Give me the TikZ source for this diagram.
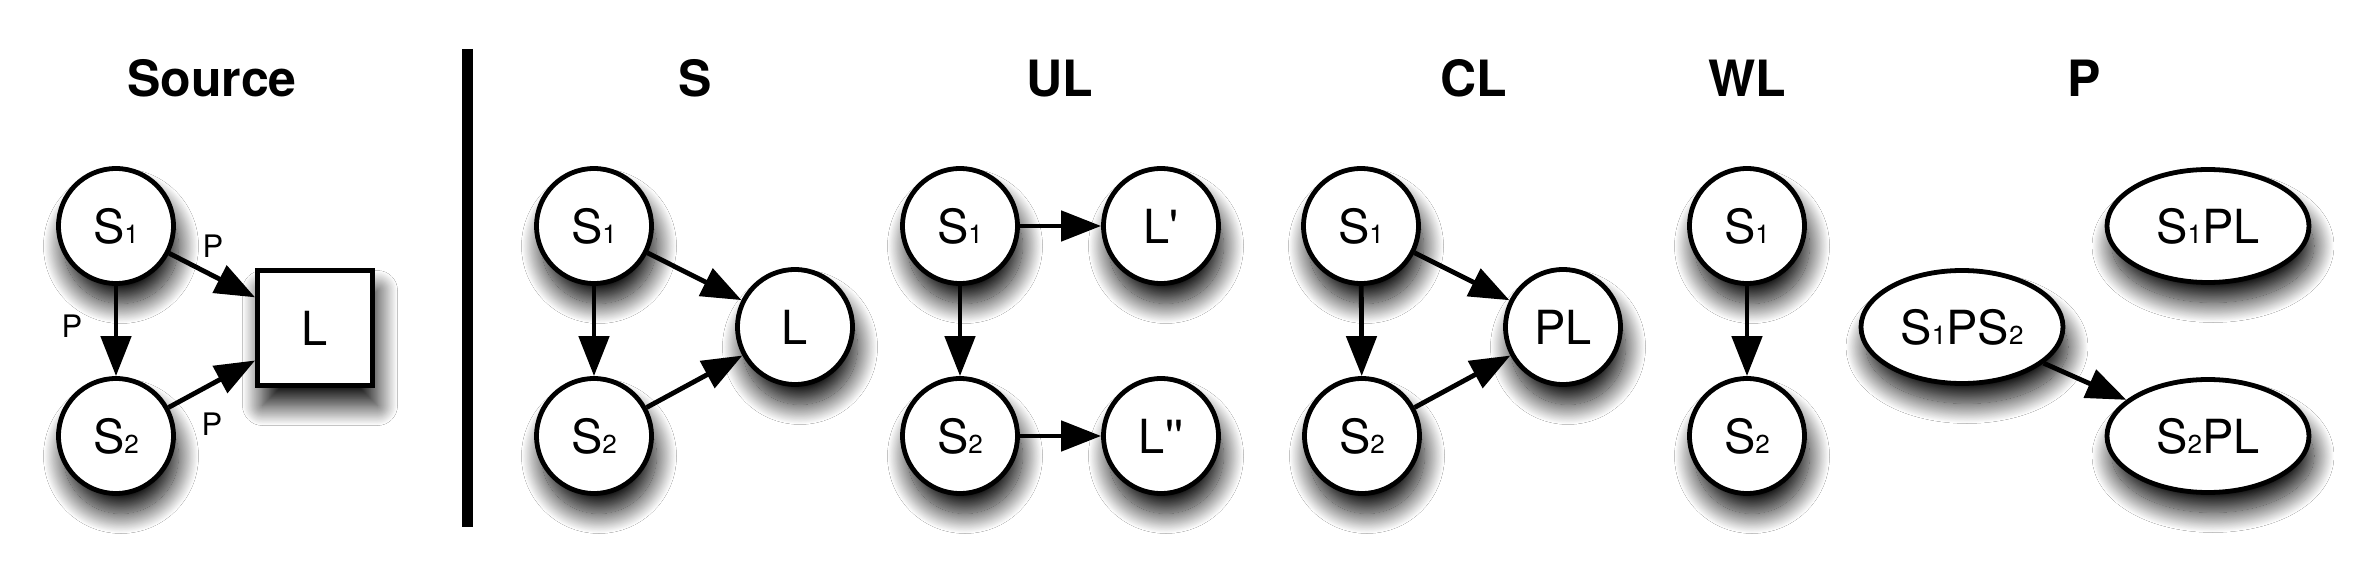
\documentclass[tikz,border=0pt]{standalone}
\usepackage{fontspec}
\newfontfamily\hv{TeX Gyre Heros}
\usetikzlibrary{arrows.meta,shapes.geometric,shadows.blur}
\newcommand{\dsub}[1]{{\fontsize{13pt}{13pt}\selectfont #1}}
\begin{document}
\begin{tikzpicture}[x=0.5pt,y=-0.5pt,
  every node/.style={inner sep=0pt, outer sep=1.2pt},
  nodefont/.style={font=\hv\fontsize{23.5pt}{23.5pt}\selectfont},
  sh/.style={blur shadow={shadow xshift=2.5pt, shadow yshift=-10pt, shadow blur radius=10pt, shadow blur steps=30, shadow opacity=95}},
  st/.style={circle, draw, line width=2.4pt, fill=white, minimum size=57.5pt, nodefont, sh},
  sq/.style={rectangle, draw, line width=2.4pt, fill=white, minimum size=57.5pt, nodefont, sh},
  el/.style={ellipse, draw, line width=2.4pt, fill=white, minimum width=101pt, minimum height=56.5pt, nodefont, sh},
  title/.style={font=\hv\bfseries\fontsize{25pt}{25pt}\selectfont, anchor=base},
  lab/.style={font=\hv\fontsize{15.5pt}{15.5pt}\selectfont},
  arr/.style={-{Triangle[length=20pt,width=15pt]}, line width=2.4pt},
]
\useasboundingbox[fill=white] (0,0) rectangle (2358,588);

% titles
\node[title] (tsrc) at (212,97) {Source};
\node[title] (ts) at (695,97) {S};
\node[title] (tul) at (1060,97) {UL};
\node[title] (tcl) at (1474,97) {CL};
\node[title] (twl) at (1747,97) {WL};
\node[title] (tp) at (2084,97) {P};

% separator bar
\draw[line width=5.5pt] (467,49) -- (467,527);

% Source
\node[st] (s1) at (116,226) {S\dsub{1}};
\node[st] (s2) at (116,436) {S\dsub{2}};
\node[sq] (sl) at (315,328) {L};
\draw[arr] (s1) -- (sl);
\draw[arr] (s1) -- (s2);
\draw[arr] (s2) -- (sl);
\node[lab] (p1) at (213,246) {P};
\node[lab] (p2) at (72,326) {P};
\node[lab] (p3) at (212,424) {P};

% S
\node[st] (a1) at (594,226) {S\dsub{1}};
\node[st] (a2) at (594,436) {S\dsub{2}};
\node[st] (al) at (795,327) {L};
\draw[arr] (a1) -- (al);
\draw[arr] (a1) -- (a2);
\draw[arr] (a2) -- (al);

% UL
\node[st] (b1) at (960,226) {S\dsub{1}};
\node[st] (b2) at (960,436) {S\dsub{2}};
\node[st] (bl1) at (1161,226) {L'};
\node[st] (bl2) at (1161,436) {L''};
\draw[arr] (b1) -- (bl1);
\draw[arr] (b1) -- (b2);
\draw[arr] (b2) -- (bl2);

% CL
\node[st] (c1) at (1361,226) {S\dsub{1}};
\node[st] (c2) at (1362,436) {S\dsub{2}};
\node[st] (cl) at (1563,327) {PL};
\draw[arr] (c1) -- (cl);
\draw[arr] (c1) -- (c2);
\draw[arr] (c2) -- (cl);

% WL
\node[st] (w1) at (1747,226) {S\dsub{1}};
\node[st] (w2) at (1747,436) {S\dsub{2}};
\draw[arr] (w1) -- (w2);

% P
\node[el] (q12) at (1962,327) {S\dsub{1}PS\dsub{2}};
\node[el] (q1) at (2208,226) {S\dsub{1}PL};
\node[el] (q2) at (2208,436) {S\dsub{2}PL};
\draw[arr] (q12) -- (q2);
\end{tikzpicture}
\end{document}
